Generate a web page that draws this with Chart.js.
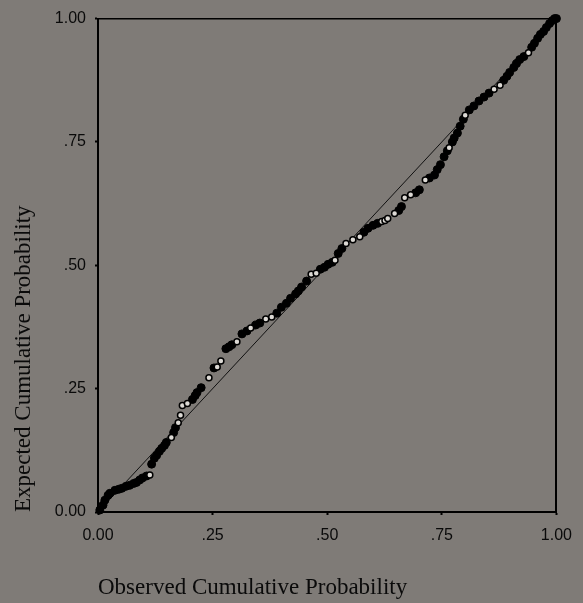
<!DOCTYPE html>
<html>
<head>
<meta charset="utf-8">
<script src="https://cdn.jsdelivr.net/npm/chart.js@4.4.1/dist/chart.umd.min.js"></script>
<style>
  html, body { margin: 0; padding: 0; background: rgb(127,123,119); }
  #wrap { width: 583px; height: 603px; }
</style>
</head>
<body>
<div id="wrap"><canvas id="ppChart" width="583" height="603"></canvas></div>
<script>
// P-P plot: observed vs expected cumulative probability
const tickValues = [0, 0.25, 0.5, 0.75, 1];
const tickLabels = ['0.00', '.25', '.50', '.75', '1.00'];

// solid (overlapping) points
const obsFilled = [0.004,0.011,0.015,0.022,0.026,0.037,0.045,0.052,0.061,0.069,0.078,0.084,0.091,0.097,0.106,
  0.117,0.123,0.128,0.134,0.139,0.145,0.149,0.165,0.169,0.206,0.212,0.216,0.225,0.253,0.279,0.286,0.292,
  0.314,0.325,0.344,0.353,0.390,0.400,0.411,0.420,0.431,0.437,0.444,0.455,0.485,0.494,0.502,0.511,0.524,0.532,
  0.580,0.589,0.600,0.610,0.656,0.662,0.693,0.701,0.723,0.734,0.740,0.747,0.755,0.762,0.773,0.777,0.784,0.790,0.797,
  0.810,0.820,0.831,0.842,0.853,0.885,0.892,0.898,0.907,0.913,0.920,0.929,0.946,0.952,0.959,0.965,0.972,0.978,0.985,0.991,0.996,1.000];
const expFilled = [0.004,0.014,0.024,0.034,0.038,0.044,0.046,0.048,0.052,0.054,0.058,0.060,0.065,0.069,0.073,
  0.097,0.109,0.115,0.123,0.129,0.135,0.141,0.161,0.171,0.228,0.236,0.242,0.252,0.292,0.331,0.335,0.339,
  0.361,0.367,0.379,0.383,0.403,0.415,0.423,0.433,0.442,0.448,0.456,0.468,0.492,0.496,0.502,0.506,0.524,0.534,
  0.567,0.575,0.581,0.585,0.611,0.619,0.647,0.653,0.677,0.683,0.694,0.704,0.720,0.732,0.750,0.758,0.768,0.782,0.796,
  0.815,0.823,0.833,0.841,0.849,0.875,0.883,0.891,0.901,0.909,0.917,0.923,0.942,0.950,0.960,0.968,0.974,0.982,0.990,0.996,1.000,1.000];

// single (open) points
const obsOpen = [0.113,0.160,0.175,0.180,0.184,0.195,0.242,0.260,0.268,0.303,0.333,0.366,0.379,0.465,0.476,0.517,
  0.541,0.556,0.571,0.619,0.626,0.632,0.647,0.669,0.682,0.714,0.766,0.801,0.864,0.877,0.939];
const expOpen = [0.075,0.151,0.181,0.196,0.216,0.220,0.272,0.294,0.306,0.345,0.373,0.391,0.395,0.482,0.484,0.510,
  0.544,0.552,0.558,0.589,0.591,0.595,0.605,0.637,0.643,0.673,0.738,0.804,0.857,0.865,0.931];

const diagonal = [0, 1];

function toPoints(xs, ys) {
    return xs.map((x, i) => ({ x: x, y: ys[i] }));
}

const fixedSize = (w, h) => (scale) => {
    if (w !== null) scale.width = w;
    if (h !== null) scale.height = h;
};

const tickFont = { family: 'Arial, "Liberation Sans", Helvetica, sans-serif', size: 16 };
const titleFont = { family: '"Liberation Serif", "Times New Roman", serif', size: 23 };

new Chart(document.getElementById('ppChart').getContext('2d'), {
    type: 'scatter',
    data: {
        datasets: [
            { label: 'single', data: toPoints(obsOpen, expOpen), pointStyle: 'circle', pointRadius: 3,
              pointBorderWidth: 1.5, pointBorderColor: '#000', pointBackgroundColor: '#dcd9d4', clip: false },
            { label: 'multiple', data: toPoints(obsFilled, expFilled), pointStyle: 'circle', pointRadius: 4,
              pointBorderWidth: 1, pointBorderColor: '#000', pointBackgroundColor: '#000', clip: false },
            { label: 'diagonal', data: toPoints(diagonal, diagonal), showLine: true, pointRadius: 0,
              borderColor: '#111', borderWidth: 1 }
        ]
    },
    options: {
        responsive: false,
        animation: false,
        layout: { padding: 0 },
        plugins: { legend: { display: false }, tooltip: { enabled: false } },
        scales: {
            x: {
                type: 'linear', position: 'bottom', min: 0, max: 1,
                afterFit: fixedSize(null, 91),
                afterBuildTicks: (s) => { s.ticks = tickValues.map(v => ({ value: v })); },
                ticks: { callback: (v, i) => tickLabels[i], color: '#0a0a0a', font: tickFont, padding: 11, maxRotation: 0 },
                grid: { drawOnChartArea: false, tickLength: 3, color: '#000', tickWidth: 2 },
                border: { color: '#000', width: 2 },
                title: { display: true, text: 'Observed Cumulative Probability', align: 'start',
                         color: '#0a0a0a', font: titleFont, padding: { top: 0, bottom: 1 } }
            },
            y: {
                type: 'linear', position: 'left', min: 0, max: 1,
                afterFit: fixedSize(98, null),
                afterBuildTicks: (s) => { s.ticks = tickValues.map(v => ({ value: v })); },
                ticks: { callback: (v, i) => tickLabels[i], color: '#0a0a0a', font: tickFont, padding: 9 },
                grid: { drawOnChartArea: false, tickLength: 3, color: '#000', tickWidth: 2 },
                border: { color: '#000', width: 2 },
                title: { display: true, text: 'Expected Cumulative Probability', align: 'start',
                         color: '#0a0a0a', font: titleFont, padding: { top: 10, bottom: 0 } }
            },
            x2: {
                type: 'linear', position: 'top', min: 0, max: 1,
                afterFit: fixedSize(null, 16),
                ticks: { display: false },
                grid: { display: false },
                border: { display: true, color: '#000', width: 1.5 }
            },
            y2: {
                type: 'linear', position: 'right', min: 0, max: 1,
                afterFit: fixedSize(23, null),
                ticks: { display: false },
                grid: { display: false },
                border: { display: true, color: '#000', width: 2 }
            }
        }
    }
});
</script>
</body>
</html>
